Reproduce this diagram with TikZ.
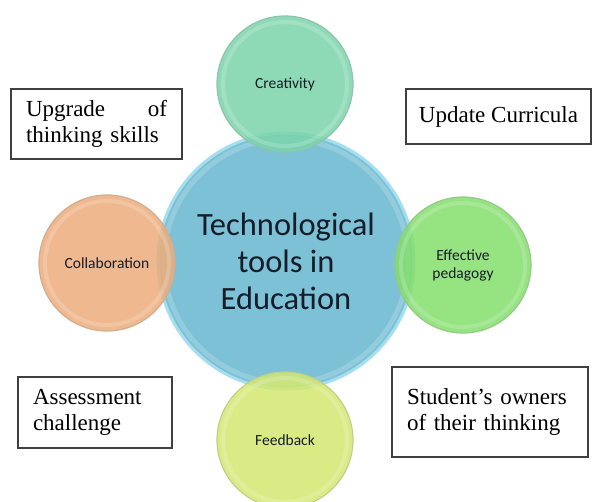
\documentclass[tikz,border=0pt]{standalone}
\usepackage{fontspec}
\setmainfont{Liberation Serif}
\newfontfamily\calibfont{Carlito}
\definecolor{hubblue}{RGB}{124,193,214}
\definecolor{hubrim}{RGB}{165,222,238}
\definecolor{mintgreen}{RGB}{122,212,170}
\definecolor{peach}{RGB}{236,172,122}
\definecolor{leafgreen}{RGB}{132,222,108}
\definecolor{limeyellow}{RGB}{212,232,112}
\definecolor{inkdark}{RGB}{22,28,40}

\begin{document}
\begin{tikzpicture}[x=1pt,y=-1pt,
    bubble/.style={circle, draw=#1!80!black!70!white, line width=1.2pt, fill=#1,
      fill opacity=.85, text opacity=1, text=inkdark,
      font=\calibfont\fontsize{15.5}{18}\selectfont, align=center,
      inner sep=0pt, minimum size=136pt,
      path picture={\draw[white, opacity=.18, line width=4pt]
        (path picture bounding box.center) circle (62pt);}},
    notebox/.style={draw=black!75, line width=1.2pt, fill=white,
      font=\fontsize{23}{26}\selectfont, align=left, inner xsep=15pt},
  ]
    \useasboundingbox (0,0) rectangle (593,502);

    % Hub circle
    \node[circle, draw=hubrim, line width=3pt, fill=hubblue, text=inkdark,
      font=\calibfont\fontsize{32.5}{37}\selectfont, align=center,
      inner sep=0pt, minimum size=256pt,
      path picture={\draw[white, opacity=.18, line width=5pt]
        (path picture bounding box.center) circle (122pt);}]
      (hub) at (286,261) {Technological\\tools in\\Education};

    % Satellite bubbles
    \node[bubble=mintgreen]  (creativity) at (285,84)  {Creativity};
    \node[bubble=peach]      (collab)     at (107,263) {Collaboration};
    \node[bubble=leafgreen]  (pedagogy)   at (463,265) {Effective\\pedagogy};
    \node[bubble=limeyellow] (feedback)   at (285,440) {Feedback};

    % Corner notes
    \node[notebox, text width=141pt, minimum height=70pt]
      (upgrade) at (96.5,124) {Upgrade\hfill of\\thinking skills};
    \node[notebox, inner xsep=8pt, minimum width=185pt, minimum height=55pt]
      (curricula) at (498.5,116.5) {Update Curricula};
    \node[notebox, text width=124pt, minimum height=71pt]
      (assess) at (95,412.5) {Assessment\\challenge};
    \node[notebox, text width=166pt, minimum height=90pt]
      (owners) at (490,412) {Student’s owners\\of their thinking};
\end{tikzpicture}
\end{document}
